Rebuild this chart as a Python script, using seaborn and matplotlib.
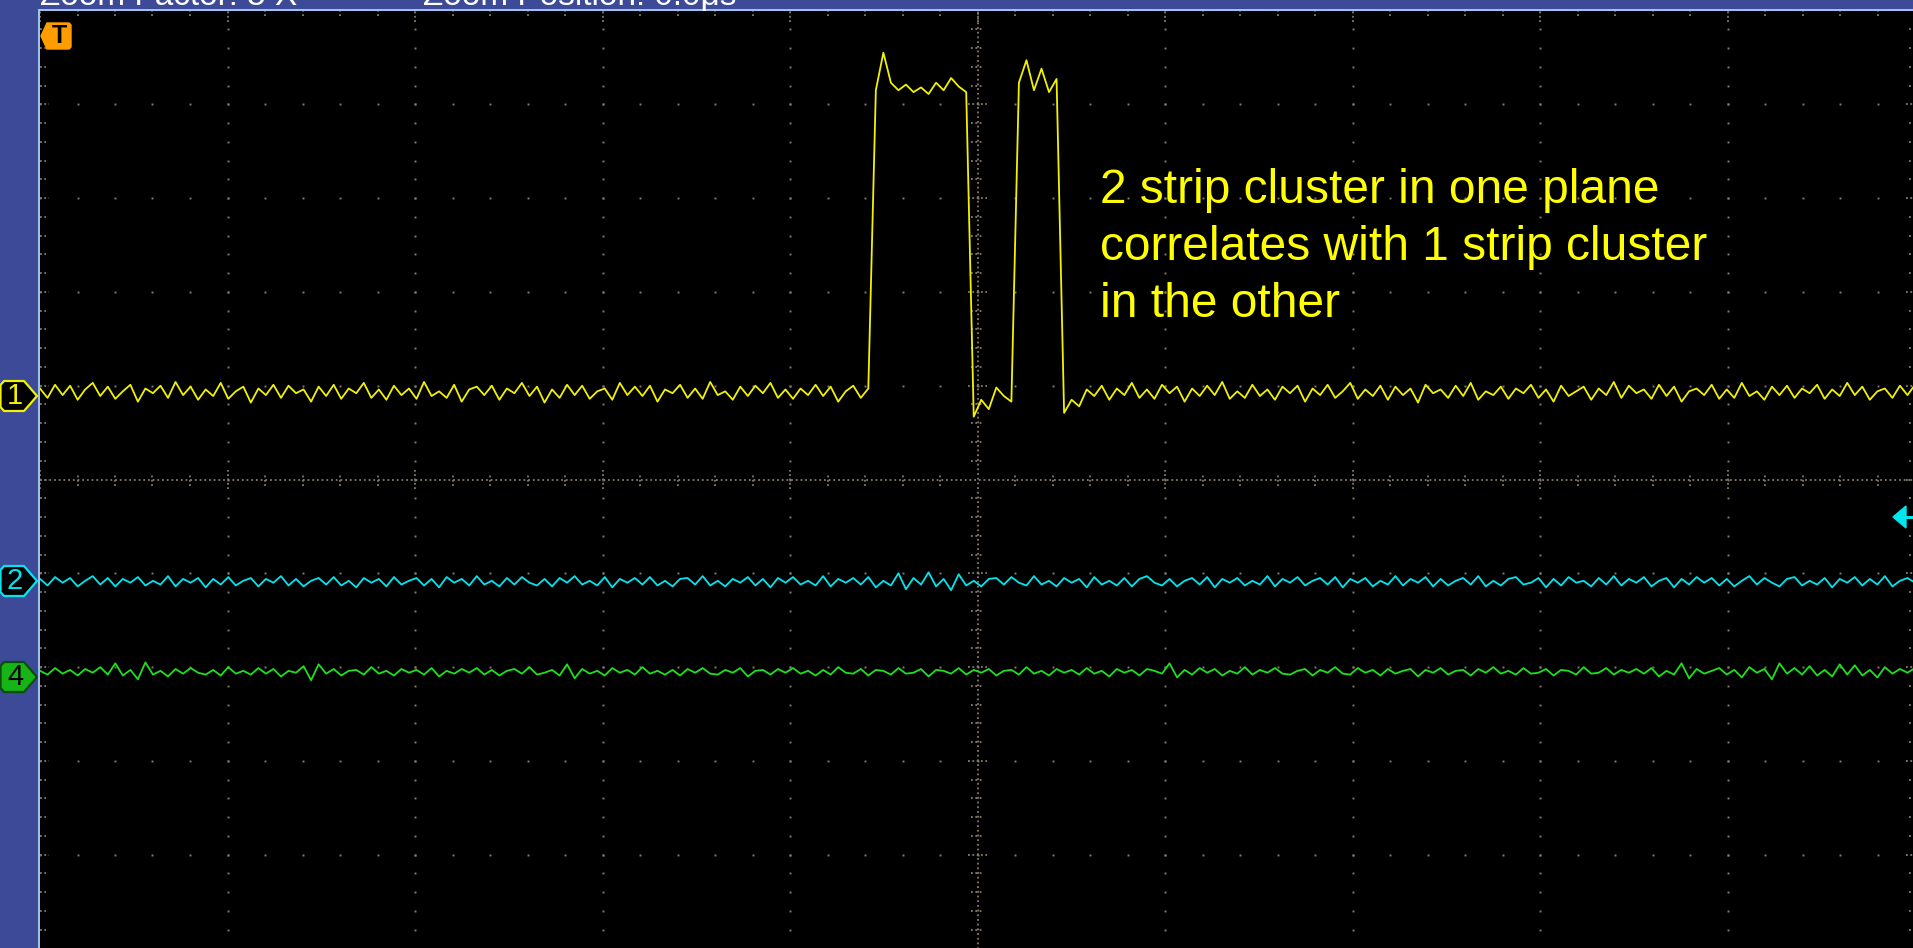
import numpy as np
import pandas as pd
import matplotlib
matplotlib.use("Agg")
import matplotlib.pyplot as plt
import seaborn as sns
from matplotlib.patches import Polygon
from matplotlib.lines import Line2D

# ---------------- data (centi-divisions relative to each channel's ground marker) -------------
ch1_level = 0.93
ch2_level = -1.09
ch4_level = -2.05

ch1_cdiv = [
    4, -6, 8, -3, 7, -8, 3, 10, -4, 6, -7, 1, 8, -10, 4, -1, 7, -6, 11, -3,
    6, -8, 3, -4, 10, -7, 1, 6, -11, 4, -3, 8, -6, 7, -1, 3, -10, 6, -4, 8,
    -7, 4, -1, 10, -6, 3, -8, 7, -3, 4, -7, 11, -4, 1, -6, 8, -10, 3, 6, -3,
    7, -8, 4, -1, 10, -4, 6, -11, 3, -6, 8, -3, 7, -7, 1, 4, -8, 10, -3, 6,
    -4, 7, -10, 3, -1, 8, -6, 4, -7, 11, -3, 1, -8, 6, -4, 7, -1, 10, -6, 3,
    -7, 4, -3, 8, -4, 6, -10, 1, 7, -6, 4,
    # first strip pulse
    322, 362, 330, 322, 328, 320, 325, 318, 330, 322, 335, 326, 320,
    # gap between strips
    -26, -8, -18, 5, -4, -10,
    # second strip pulse
    330, 354, 322, 345, 320, 334,
    # after pulses
    -22, -8, -15, 3, -4, 7, -8, 4, -3, 10,
    -6, 3, -7, 8, -1, 6, -10, 4, -4, 7,
    -3, 11, -7, 1, -6, 8, -4, 3, -8, 6,
    -1, 7, -10, 4, -3, 8, -6, 1, 10, -7,
    3, -4, 7, -8, 6, -3, 4, -11, 8, -1,
    3, -6, 7, -4, 10, -8, 1, -3, 6, -7,
    4, -1, 8, -6, 3, -10, 7, -4, 1, 6,
    -8, 4, -3, 11, -6, 7, -1, 3, -7, 8,
    -4, 6, -10, 1, 4, -3, 8, -7, 3, -6,
    10, -4, 1, -8, 6, -3, 7, -6, 4, -1,
    8, -7, 3, -4, 10, -3, 6, -8, 1, 4,
    -6, 7, -3, 8,
]

ch2_cdiv = [
    3, -4, 5, -1, 4, -5, 1, 6, -3, 4,
    -5, 3, -1, 5, -4, 1, -3, 6, -5, 3,
    -1, 4, -6, 3, -3, 5, -4, 1, 4, -5,
    3, -1, 6, -4, 3, -5, 1, 4, -3, 5,
    -4, 1, -6, 4, -1, 3, -5, 5, -3, 1,
    4, -4, 3, -6, 5, -1, 3, -4, 6, -3,
    1, -5, 4, -3, 5, -1, -4, 3, -5, 4,
    -1, 6, -3, 1, -4, 5, -6, 3, -1, 4,
    -3, 5, -4, 1, -5, 3, 4, -3, 6, -4,
    1, -5, 3, -1, 5, -4, 3, -6, 4, -1,
    5, -3, 1, -4, 6, -5, 3, -1, 4, -3,
    5, -6, 1, -4, 9, -8, 4, -3, 10, -5,
    3, -9, 8, -4, 1, -5, 3, 4, -3, 5,
    -1, -4, 6, -3, 1, -5, 4, -1, 3, -6,
    5, -3, 1, -4, 4, -5, 3, 6, -1, -4,
    3, -5, 1, 4, -3, 5, -6, 3, -1, 4,
    -4, 1, -3, 6, -5, 3, -1, 5, -4, 1,
    4, -3, 5, -6, 3, -1, 4, -5, 1, -3,
    6, -4, 3, -1, 5, -5, 3, -4, 1, 4,
    -3, 6, -5, 1, -4, 3, 5, -3, -1, 4,
    -6, 3, -4, 5, -1, 1, -5, 4, -3, 6,
    -4, 3, -1, 5, -5, 1, 4, -6, 3, -3,
    5, -1, 4, -4, 3, -5, 1, 6, -3, 4,
    -1, -5, 3, 5, -4, 1, -3, 4, -6, 3,
    -1, 5, -4, 3, -3, 6, -5, 1, 4, -1,
]

ch4_cdiv = [
    1, -3, 4, -2, 2, -4, 3, -1, 5, -3,
    9, -4, 2, -8, 10, -3, 1, -5, 3, -2,
    4, -1, -3, 2, -4, 5, -2, 1, -3, 4,
    -2, 3, -5, 1, -1, 6, -9, 8, -2, 3,
    -4, 1, 2, -3, 5, -2, 1, -4, 3, -1,
    2, -3, 4, -5, 1, -2, 3, -1, 4, -3,
    2, -4, 1, 3, -2, 5, -3, -1, 2, -4,
    8, -7, 3, -2, 1, -4, 4, -1, 2, -3,
    5, -2, 1, -3, 2, -4, 3, -1, 4, -2,
    -3, 2, -1, 4, -5, 1, 2, -3, 3, -1,
    4, -2, 1, -4, 2, -3, 5, -1, -2, 3,
    -4, 2, 1, -3, 4, -2, -1, 3, -5, 2,
    1, -2, 4, -3, 2, -1, 3, -4, 1, 2,
    -3, 5, -2, 1, -4, 3, -1, 2, -3, 4,
    -2, 1, -5, 3, -1, 2, -4, 3, 1, -2,
    9, -6, 2, -3, 4, -1, 3, -4, 1, -2,
    5, -3, 2, -1, 4, -2, -3, 1, 3, -4,
    2, -1, 5, -2, -3, 4, -1, 2, -4, 3,
    -2, 1, 3, -5, 2, -1, 4, -3, 1, 2,
    -4, 3, -1, 5, -2, 1, -3, 4, -2, -1,
    3, -4, 2, 1, -3, 5, -2, -1, 4, -3,
    2, -1, 3, -2, 4, -5, 1, -3, 9, -7,
    3, -2, 1, 4, -3, 2, -6, 5, -1, 3,
    -8, 9, -2, 4, -3, 6, -4, 2, -5, 8,
    -3, 7, -4, 2, -6, 5, -2, 3, -1, 4,
]

channel_names = ["1", "2", "4"]
annotation_lines = ["2 strip cluster in one plane",
                    "correlates with 1 strip cluster",
                    "in the other"]
header_left = "Zoom Factor: 5 X"
header_right = "Zoom Position: 0.0\u03bcs"

# ---------------- styling ----------------
sns.set_style("dark")
plt.rcParams["font.family"] = ["Liberation Sans", "DejaVu Sans"]

W, H = 1913, 948
BLUE = "#3c4a98"
BORDER = "#a9cff7"
GRID = "#857c6c"
YEL = "#f2f200"
CYAN = "#00e6ef"
GREEN = "#1ee01e"


def fx(x):
    return x / W


def fy(y):
    return 1 - y / H


fig = plt.figure(figsize=(W / 100, H / 100), dpi=100, facecolor=BLUE)
ax = fig.add_axes([40 / W, -0.5 / H, 1875 / W, 938 / H])
ax.set_facecolor("black")

# ---------------- graticule ----------------
minor = np.round(np.arange(-5, 5.0001, 0.2), 6)
majors = [v for v in range(-4, 5) if v != 0]
gx, gy = [], []
for m in majors:
    for v in minor:
        gx.append(m); gy.append(v)
        gx.append(v); gy.append(m)
ax.plot(gx, gy, ls="none", marker="s", ms=1.4, mew=0, color=GRID, zorder=1)

ax.axhline(0, color=GRID, lw=1.3, ls=(0, (1, 1.6)), zorder=1)
ax.axvline(0, color=GRID, lw=1.3, ls=(0, (1, 1.6)), zorder=1)
xm = minor[np.abs(minor) > 1e-9]
is_major_x = np.isclose(xm, np.round(xm))
ax.vlines(xm, np.where(is_major_x, -0.1, -0.07), np.where(is_major_x, 0.1, 0.07),
          color=GRID, lw=1.3, linestyles=(0, (1, 1.4)), zorder=1)
ax.hlines(xm, np.where(is_major_x, -0.05, -0.036), np.where(is_major_x, 0.05, 0.036),
          color=GRID, lw=1.3, linestyles=(0, (1, 1.4)), zorder=1)
# edge ticks
ax.hlines(minor, -5, np.where(np.isclose(minor, np.round(minor)), -4.95, -4.97),
          color=GRID, lw=1.3, linestyles=(0, (1, 1.4)), zorder=1)
ax.hlines(minor, np.where(np.isclose(minor, np.round(minor)), 4.95, 4.97), 5,
          color=GRID, lw=1.3, linestyles=(0, (1, 1.4)), zorder=1)
ax.vlines(minor, np.where(np.isclose(minor, np.round(minor)), 4.88, 4.94), 5,
          color=GRID, lw=1.3, linestyles=(0, (1, 1.4)), zorder=1)

# ---------------- traces ----------------
N = len(ch1_cdiv)
t = np.linspace(-5, 5, N)
df = pd.DataFrame({
    "t": np.concatenate([t, t, t]),
    "v": np.concatenate([ch1_level + np.array(ch1_cdiv) / 100.0,
                         ch2_level + np.array(ch2_cdiv) / 100.0,
                         ch4_level + np.array(ch4_cdiv) / 100.0]),
    "ch": np.repeat(channel_names, N),
})
for name, col in zip(channel_names, [YEL, CYAN, GREEN]):
    sns.lineplot(data=df[df["ch"] == name], x="t", y="v", color=col, linewidth=1.3,
                 estimator=None, sort=False, ax=ax, legend=False, zorder=3)

ax.set_xlim(-5, 5)
ax.set_ylim(-5, 5)
ax.set_xlabel("")
ax.set_ylabel("")
ax.set_xticks([])
ax.set_yticks([])
for s in ax.spines.values():
    s.set_visible(False)

# ---------------- frame ----------------
fig.add_artist(Line2D([fx(38.5), fx(38.5)], [0, fy(9.5)], color=BORDER, lw=1.3))
fig.add_artist(Line2D([fx(38.5), 1], [fy(9.5), fy(9.5)], color=BORDER, lw=1.3))

fig.text(fx(40), fy(5), header_left, color="white", fontsize=24, ha="left", va="baseline")
fig.text(fx(423), fy(5), header_right, color="white", fontsize=24, ha="left", va="baseline")


# channel tags
def tag(cy, face, edge, label, tcolor):
    pts = [(0.5, cy - 11), (4, cy - 15), (24, cy - 15), (37, cy), (24, cy + 15),
           (4, cy + 15), (0.5, cy + 11)]
    fig.add_artist(Polygon([(fx(x), fy(y)) for x, y in pts], closed=True,
                           transform=fig.transFigure, fc=face, ec=edge, lw=1.6,
                           joinstyle="round"))
    fig.text(fx(15), fy(cy), label, color=tcolor, fontsize=21, ha="center",
             va="center")


tag(396, "black", YEL, channel_names[0], YEL)
tag(581, "black", CYAN, channel_names[1], CYAN)
tag(677, "#16b416", "#0a4d0a", channel_names[2], "black")

# trigger marker
tp = [(41, 36), (47, 23), (69, 23), (71, 25), (71, 47), (69, 49), (47, 49)]
fig.add_artist(Polygon([(fx(x), fy(y)) for x, y in tp], closed=True,
                       transform=fig.transFigure, fc="#ff9c00", ec="#ff9c00", lw=1))
fig.text(fx(59), fy(36), "T", color="black", fontsize=18, fontweight="bold",
         ha="center", va="center")

# cyan offset arrow at right
ap = [(1893, 517), (1906, 506), (1906, 528)]
fig.add_artist(Polygon([(fx(x), fy(y)) for x, y in ap], closed=True,
                       transform=fig.transFigure, fc=CYAN, ec=CYAN, lw=1))
fig.add_artist(Line2D([fx(1904), 1], [fy(517), fy(517)], color=CYAN, lw=2.2))

# annotation
for i, line in enumerate(annotation_lines):
    fig.text(fx(1100), fy(203 + 57 * i), line, color="#ffff00", fontsize=34.5,
             ha="left", va="baseline")

fig.savefig("out.png", dpi=100, facecolor=BLUE)
